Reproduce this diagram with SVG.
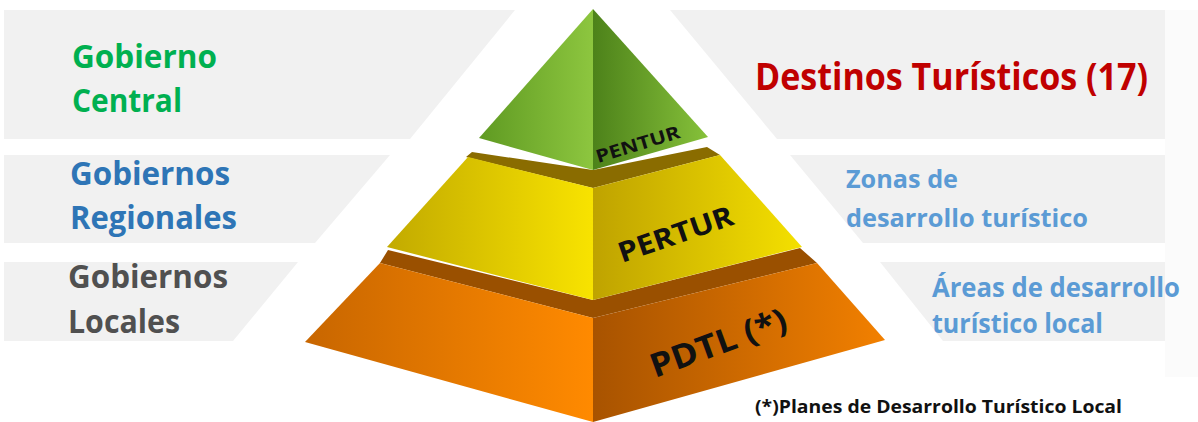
<svg xmlns="http://www.w3.org/2000/svg" width="1198" height="422" viewBox="0 0 1198 422">
<style>
.band{fill:#f1f1f1}
.lbl{font-family:"Open Sans","Liberation Sans",sans-serif;font-weight:bold}
.tier{font-family:"Open Sans","Liberation Sans",sans-serif;font-weight:bold;fill:#111}
</style>
<defs>
<linearGradient id="gL" x1="0" x2="1" y1="0" y2="0"><stop offset="0" stop-color="#5f9a22"/><stop offset="1" stop-color="#8dc63f"/></linearGradient>
<linearGradient id="gR" x1="0" x2="1" y1="0" y2="0"><stop offset="0" stop-color="#4d821a"/><stop offset="1" stop-color="#86c13a"/></linearGradient>
<linearGradient id="yL" x1="0" x2="1" y1="0" y2="0"><stop offset="0" stop-color="#c2aa00"/><stop offset="1" stop-color="#f8e300"/></linearGradient>
<linearGradient id="yR" x1="0" x2="1" y1="0" y2="0"><stop offset="0" stop-color="#bfa300"/><stop offset="1" stop-color="#f4e000"/></linearGradient>
<linearGradient id="oL" x1="0" x2="1" y1="0" y2="0"><stop offset="0" stop-color="#c86600"/><stop offset="1" stop-color="#ff8a00"/></linearGradient>
<linearGradient id="oR" x1="0" x2="1" y1="0" y2="0"><stop offset="0" stop-color="#a85300"/><stop offset="1" stop-color="#f28000"/></linearGradient>
</defs>
<rect width="1198" height="422" fill="#ffffff"/>
<g id="bands">
<rect x="1165" y="10" width="33" height="367" fill="#fbfbfb"/>
<polygon class="band" points="4,10 515,10 410,139 4,139"/>
<polygon class="band" points="4,155 390,155 315,243 4,243"/>
<polygon class="band" points="4,262 298,262 233,341 4,341"/>
<polygon class="band" points="670,10 1165,10 1165,139 777,139"/>
<polygon class="band" points="790,155 1165,155 1165,243 863,243"/>
<polygon class="band" points="880,262 1165,262 1165,341 943,341"/>
</g>
<g id="tier-pdtl">
<polygon fill="#9a5000" points="380,263 388,250 593,300 800,248 817,263 593,318"/>
<polygon fill="url(#oL)" points="380,263 593,318 593,422 305,342"/>
<polygon fill="url(#oR)" points="593,318 817,263 885,340 593,422"/>
<text class="tier" font-size="33" transform="translate(655,378) rotate(-20)" textLength="143" lengthAdjust="spacingAndGlyphs">PDTL (*)</text>
</g>
<g id="tier-pertur">
<polygon fill="#8a6c00" points="466,157 472,152 593,170 707,147 720,155 593,188"/>
<polygon fill="url(#yL)" points="468,157 593,188 593,300 387,247"/>
<polygon fill="url(#yR)" points="593,188 720,155 802,247 593,300"/>
<text class="tier" font-size="28" transform="translate(622,263) rotate(-19)" textLength="120" lengthAdjust="spacingAndGlyphs">PERTUR</text>
</g>
<g id="tier-pentur">
<polygon fill="url(#gL)" points="593,9 479,138 593,170"/>
<polygon fill="url(#gR)" points="593,9 593,170 708,137"/>
<text class="tier" font-size="18" transform="translate(598,163) rotate(-17)" textLength="87" lengthAdjust="spacingAndGlyphs">PENTUR</text>
</g>
<g id="left-labels">
<text class="lbl" fill="#00b050" font-size="32" x="72" y="68" textLength="145" lengthAdjust="spacingAndGlyphs">Gobierno</text>
<text class="lbl" fill="#00b050" font-size="32" x="72" y="112" textLength="110" lengthAdjust="spacingAndGlyphs">Central</text>
<text class="lbl" fill="#2e75b6" font-size="32" x="70" y="185" textLength="160" lengthAdjust="spacingAndGlyphs">Gobiernos</text>
<text class="lbl" fill="#2e75b6" font-size="32" x="70" y="229" textLength="167" lengthAdjust="spacingAndGlyphs">Regionales</text>
<text class="lbl" fill="#505050" font-size="32" x="68" y="288" textLength="160" lengthAdjust="spacingAndGlyphs">Gobiernos</text>
<text class="lbl" fill="#505050" font-size="32" x="68" y="333" textLength="112" lengthAdjust="spacingAndGlyphs">Locales</text>
</g>
<g id="right-labels">
<text class="lbl" fill="#c00000" font-size="37" x="755" y="90" textLength="393" lengthAdjust="spacingAndGlyphs">Destinos Turísticos (17)</text>
<text class="lbl" fill="#5b9bd5" font-size="25" x="846" y="188" textLength="112" lengthAdjust="spacingAndGlyphs">Zonas de</text>
<text class="lbl" fill="#5b9bd5" font-size="25" x="846" y="227" textLength="242" lengthAdjust="spacingAndGlyphs">desarrollo turístico</text>
<text class="lbl" fill="#5b9bd5" font-size="26" x="932" y="297" textLength="248" lengthAdjust="spacingAndGlyphs">Áreas de desarrollo</text>
<text class="lbl" fill="#5b9bd5" font-size="26" x="932" y="333" textLength="171" lengthAdjust="spacingAndGlyphs">turístico local</text>
<text class="lbl" fill="#111111" font-size="17" x="755" y="413" textLength="367" lengthAdjust="spacingAndGlyphs">(*)Planes de Desarrollo Turístico Local</text>
</g>
</svg>
